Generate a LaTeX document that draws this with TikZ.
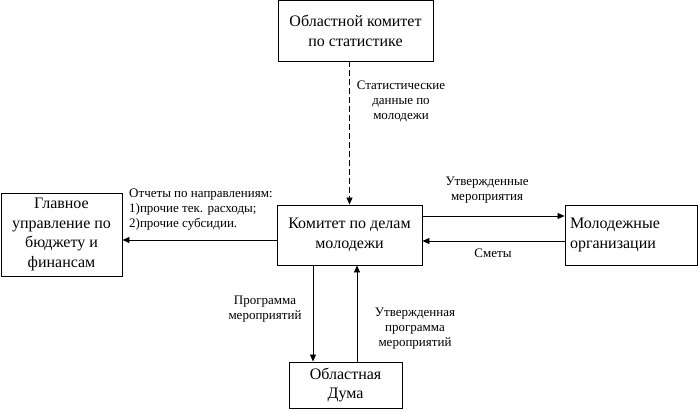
\documentclass[tikz,border=0pt]{standalone}
\usepackage{fontspec}
\setmainfont{Liberation Serif}
\usetikzlibrary{arrows.meta,calc}
\begin{document}
\begin{tikzpicture}[x=1pt,y=-1pt,
  box/.style={draw,line width=0.9pt,inner sep=0pt,align=center,font=\fontsize{16}{19.5}\selectfont},
  lbl/.style={inner sep=0pt,align=center,font=\fontsize{13}{15}\selectfont},
  arr/.style={line width=0.8pt,-{Triangle[length=7pt,width=6pt]}},
  ln/.style={line width=0.8pt}]
\useasboundingbox[fill=white] (0,0) rectangle (698,410);
\node[box,minimum width=155pt,minimum height=60.5pt] (stat) at (355.5,30.75) {Областной комитет\\по статистике};
\node[box,minimum width=145pt,minimum height=60pt] (main) at (349.5,235) {Комитет по делам\\молодежи};
\node[box,minimum width=121pt,minimum height=83pt] (fin) at (61.5,234.5) {Главное\\управление по\\бюджету и\\финансам};
\node[box,minimum width=132pt,minimum height=60pt,align=left,text width=122pt] (org) at (631,235) {Молодежные\\организации};
\node[box,minimum width=113pt,minimum height=46pt] (duma) at (345.5,385) {Областная\\Дума};
\draw[ln,dashed,dash pattern=on 6pt off 3pt,-{Triangle[length=7pt,width=6pt]}] (stat.south -| main.north) -- (main.north);
\draw[arr] ([yshift=-5pt]main.west) -- ([yshift=-5pt]main.west -| fin.east);
\draw[arr] ([yshift=19pt]main.east) -- ([yshift=19pt]main.east -| org.west);
\draw[arr] ([yshift=-6pt]org.west) -- ([yshift=-6pt]org.west -| main.east);
\draw[arr] ([xshift=-36.5pt]main.south) -- ([xshift=-36.5pt]main.south |- duma.north);
\draw[arr] ([xshift=11.5pt]duma.north) -- ([xshift=11.5pt]duma.north |- main.south);
\node[lbl] (l1) at (401,101) {Статистические\\данные по\\молодежи};
\node[lbl,align=left,anchor=west] (l2) at (129,210) {Отчеты по направлениям:\\1)прочие тек. расходы;\\2)прочие субсидии.};
\node[lbl] (l3) at (487,190.5) {Утвержденные\\мероприятия};
\node[lbl] (l4) at (493,253.5) {Сметы};
\node[lbl] (l5) at (265,309) {Программа\\мероприятий};
\node[lbl] (l6) at (415,328.5) {Утвержденная\\программа\\мероприятий};
\end{tikzpicture}
\end{document}
